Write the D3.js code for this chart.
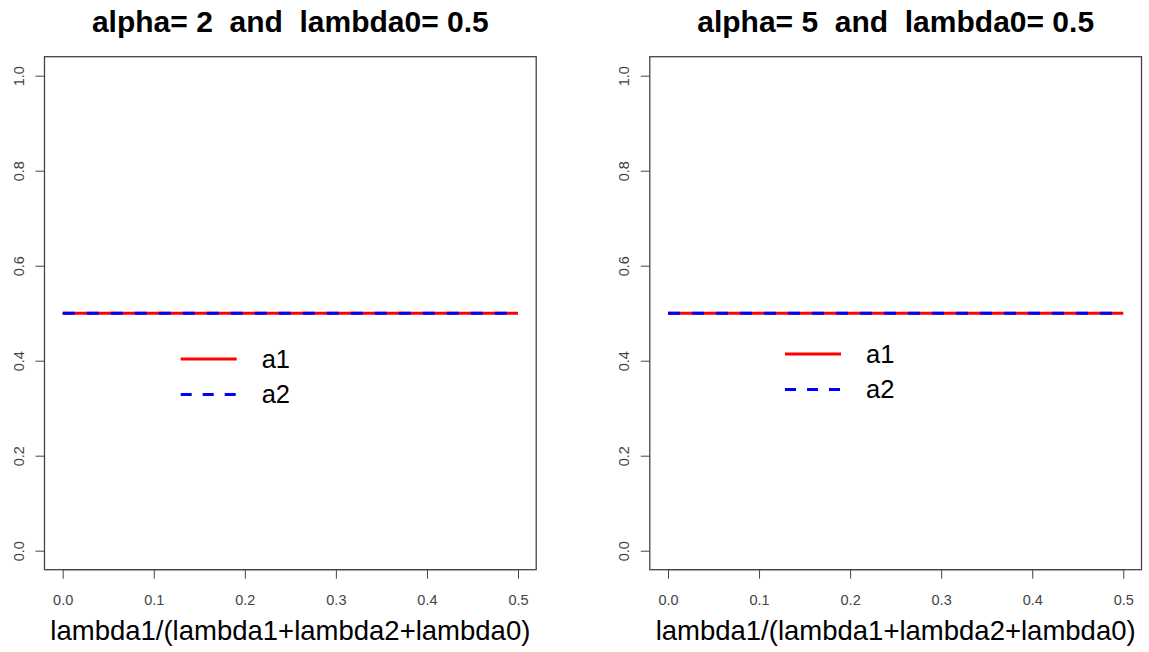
<!DOCTYPE html>
<html><head><meta charset="utf-8">
<script src="https://cdn.jsdelivr.net/npm/d3@7"></script>
<style>body{margin:0;background:#fff}svg{display:block}text{font-family:"Liberation Sans",Arial,sans-serif;white-space:pre}</style>
</head><body>
<svg id="c" width="1149" height="652"></svg>
<script>
const panelTitles = ["alpha= 2  and  lambda0= 0.5", "alpha= 5  and  lambda0= 0.5"];
const xLabel = "lambda1/(lambda1+lambda2+lambda0)";
const xTicks = [0.0, 0.1, 0.2, 0.3, 0.4, 0.5];
const yTicks = [0.0, 0.2, 0.4, 0.6, 0.8, 1.0];
const xValues = [0.0, 0.05, 0.1, 0.15, 0.2, 0.25, 0.3, 0.35, 0.4, 0.45, 0.5];
const a1Alpha2 = [0.5, 0.5, 0.5, 0.5, 0.5, 0.5, 0.5, 0.5, 0.5, 0.5, 0.5];
const a2Alpha2 = [0.5, 0.5, 0.5, 0.5, 0.5, 0.5, 0.5, 0.5, 0.5, 0.5, 0.5];
const a1Alpha5 = [0.5, 0.5, 0.5, 0.5, 0.5, 0.5, 0.5, 0.5, 0.5, 0.5, 0.5];
const a2Alpha5 = [0.5, 0.5, 0.5, 0.5, 0.5, 0.5, 0.5, 0.5, 0.5, 0.5, 0.5];
const seriesNames = ["a1", "a2"];
const seriesColors = ["#ff0000", "#0000ff"];

const panels = [
  {title: panelTitles[0], a1: a1Alpha2, a2: a2Alpha2, x0: 62.7, x1: 518, legX: 180.7, legY: 359},
  {title: panelTitles[1], a1: a1Alpha5, a2: a2Alpha5, x0: 668, x1: 1123.3, legX: 785, legY: 354}
];
const y0 = 550.7, y1 = 75.7;
const svg = d3.select("#c");

panels.forEach(p => {
  const x = d3.scaleLinear().domain([0, 0.5]).range([p.x0, p.x1]);
  const y = d3.scaleLinear().domain([0, 1]).range([y0, y1]);
  const dx = (p.x1 - p.x0) * 0.04, dy = (y0 - y1) * 0.04;
  const L = p.x0 - dx, R = p.x1 + dx, T = y1 - dy, B = y0 + dy;
  const g = svg.append("g");
  g.append("rect").attr("x", L).attr("y", T).attr("width", R - L).attr("height", B - T)
    .attr("fill", "none").attr("stroke", "#444").attr("stroke-width", 1.3);
  const xa = g.append("g").attr("transform", `translate(0,${B})`)
    .call(d3.axisBottom(x).tickValues(xTicks).tickFormat(d3.format(".1f")).tickSize(9).tickPadding(16));
  xa.select(".domain").attr("d", `M${p.x0},0H${p.x1}`).attr("stroke", "#444");
  xa.selectAll(".tick line").attr("stroke", "#444");
  xa.selectAll("text").attr("font-size", 14.5).attr("fill", "#444").attr("font-family", "Liberation Sans, Arial, sans-serif");
  const ya = g.append("g").attr("transform", `translate(${L},0)`)
    .call(d3.axisLeft(y).tickValues(yTicks).tickFormat(d3.format(".1f")).tickSize(9));
  ya.select(".domain").remove();
  ya.selectAll(".tick line").attr("stroke", "#444");
  ya.selectAll("text").attr("font-size", 14.5).attr("fill", "#444").attr("font-family", "Liberation Sans, Arial, sans-serif")
    .attr("transform", "rotate(-90)").attr("x", 0).attr("y", -25).attr("dy", "0.32em").attr("text-anchor", "middle");
  const line = d3.line().x((d, i) => x(xValues[i])).y(d => y(d));
  g.append("path").datum(p.a1).attr("d", line).attr("fill", "none")
    .attr("stroke", seriesColors[0]).attr("stroke-width", 3);
  g.append("path").datum(p.a2).attr("d", line).attr("fill", "none")
    .attr("stroke", seriesColors[1]).attr("stroke-width", 3).attr("stroke-dasharray", "12,12");
  svg.append("text").attr("x", (L + R) / 2).attr("y", 32).attr("text-anchor", "middle")
    .attr("font-size", 30).attr("font-weight", "bold").attr("fill", "#000").text(p.title);
  svg.append("text").attr("x", (L + R) / 2).attr("y", 640).attr("text-anchor", "middle")
    .attr("font-size", 27.5).attr("fill", "#000").text(xLabel);
  seriesNames.forEach((n, i) => {
    const ly = p.legY + i * 35.5;
    g.append("line").attr("x1", p.legX).attr("x2", p.legX + 56).attr("y1", ly).attr("y2", ly)
      .attr("stroke", seriesColors[i]).attr("stroke-width", 3)
      .attr("stroke-dasharray", i === 1 ? "11,11" : null);
    g.append("text").attr("x", p.legX + 81).attr("y", ly).attr("dy", "0.35em")
      .attr("font-size", 25.5).attr("fill", "#000").text(n);
  });
});
</script>
</body></html>
